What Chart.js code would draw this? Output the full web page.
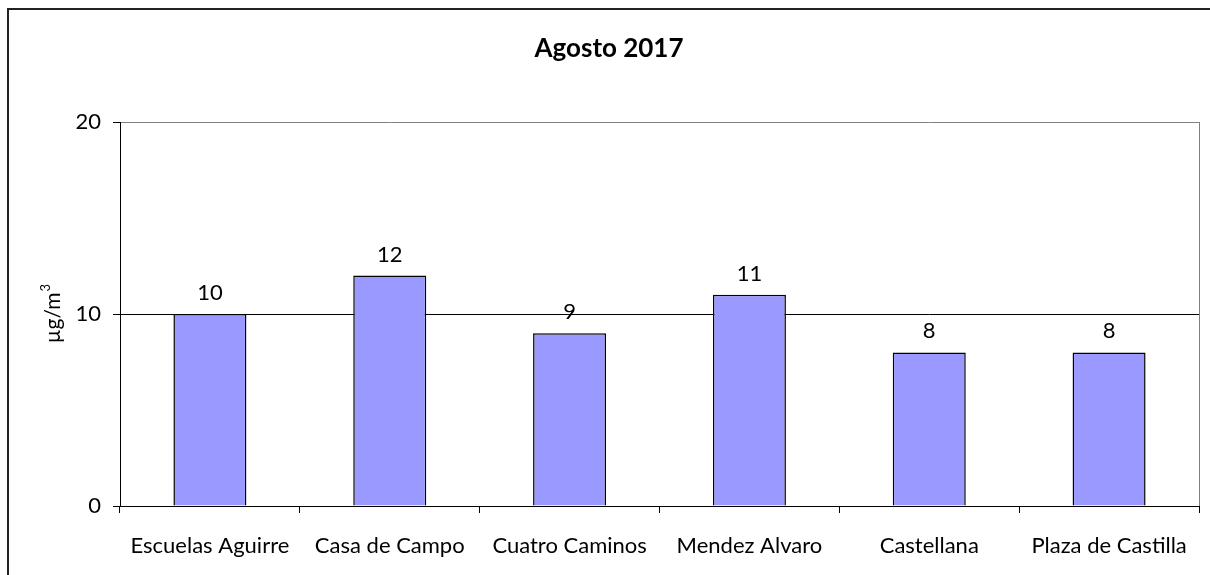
<!DOCTYPE html>
<html>
<head>
<meta charset="utf-8">
<script src="https://cdn.jsdelivr.net/npm/chart.js@4"></script>
<style>
html,body{margin:0;padding:0;background:#fff;overflow:hidden;}
#wrap{width:1210px;height:575px;position:relative;}
canvas{display:block;}
</style>
</head>
<body>
<div id="wrap"><canvas id="c" width="1210" height="575"></canvas></div>
<script>
const chartTitle = 'Agosto 2017';
const categories = ['Escuelas Aguirre','Casa de Campo','Cuatro Caminos','Mendez Alvaro','Castellana','Plaza de Castilla'];
const values = [10, 12, 9, 11, 8, 8];
const yTicks = [0, 10, 20];
const yTitleBase = 'µg/m';
const yTitleSup = '3';
const FONT = 'Lato';

const decor = {
  id: 'decor',
  beforeDraw(chart) {
    const c = chart.ctx;
    c.save();
    c.fillStyle = '#fff';
    c.fillRect(0, 0, chart.width, chart.height);
    c.restore();
  },
  afterDraw(chart) {
    const c = chart.ctx, a = chart.chartArea;
    c.save();
    // outer frame (top and left visible)
    c.strokeStyle = '#222';
    c.lineWidth = 2;
    c.beginPath();
    c.moveTo(8, chart.height);
    c.lineTo(8, 9);
    c.lineTo(chart.width, 9);
    c.stroke();
    // right border of plot
    c.strokeStyle = '#808080';
    c.lineWidth = 1;
    c.beginPath();
    c.moveTo(Math.round(a.right) + 0.5, a.top);
    c.lineTo(Math.round(a.right) + 0.5, a.bottom);
    c.stroke();
    // title
    c.fillStyle = '#000';
    c.font = 'bold 26px ' + FONT;
    c.textAlign = 'center';
    c.textBaseline = 'alphabetic';
    c.fillText(chartTitle, 609, 57);
    // y axis title (rotated)
    c.save();
    c.translate(60, (a.top + a.bottom) / 2);
    c.rotate(-Math.PI / 2);
    c.font = '21px ' + FONT;
    const wBase = c.measureText(yTitleBase).width;
    c.font = '13px ' + FONT;
    const wSup = c.measureText(yTitleSup).width;
    const start = -(wBase + wSup) / 2;
    c.textAlign = 'left';
    c.font = '21px ' + FONT;
    c.fillText(yTitleBase, start, 0);
    c.font = '13px ' + FONT;
    c.fillText(yTitleSup, start + wBase + 1, -10);
    c.restore();
    // data labels
    c.font = '22px ' + FONT;
    c.textAlign = 'center';
    c.textBaseline = 'alphabetic';
    const meta = chart.getDatasetMeta(0);
    meta.data.forEach((bar, i) => {
      c.fillText(String(values[i]), bar.x, bar.y - 14);
    });
    c.restore();
  }
};

new Chart(document.getElementById('c'), {
  type: 'bar',
  data: {
    labels: categories,
    datasets: [{
      data: values,
      backgroundColor: '#9999FF',
      borderColor: '#000',
      borderWidth: 1.5,
      barPercentage: 0.406,
      categoryPercentage: 1
    }]
  },
  options: {
    responsive: false,
    animation: false,
    devicePixelRatio: 1,
    layout: { padding: { left: 0, right: 11, top: 122, bottom: 0 } },
    plugins: { legend: { display: false }, title: { display: false }, tooltip: { enabled: false } },
    scales: {
      x: {
        offset: true,
        grid: { offset: true, drawOnChartArea: false, color: '#000', tickLength: 7 },
        border: { color: '#000', width: 1 },
        ticks: { color: '#000', font: { family: FONT, size: 22 }, padding: 20, maxRotation: 0, autoSkip: false },
        afterFit(s) { s.height = 69; }
      },
      y: {
        min: 0, max: 20,
        afterBuildTicks(s) { s.ticks = yTicks.map(v => ({ value: v })); },
        grid: {
          color: (ctx) => (ctx.tick && ctx.tick.value === 20) ? '#808080' : '#000',
          tickLength: 7,
          tickColor: '#000'
        },
        border: { color: '#000', width: 1 },
        ticks: { color: '#000', font: { family: FONT, size: 22 }, padding: 12 },
        afterFit(s) { s.width = 120; }
      }
    }
  },
  plugins: [decor]
});
</script>
</body>
</html>
